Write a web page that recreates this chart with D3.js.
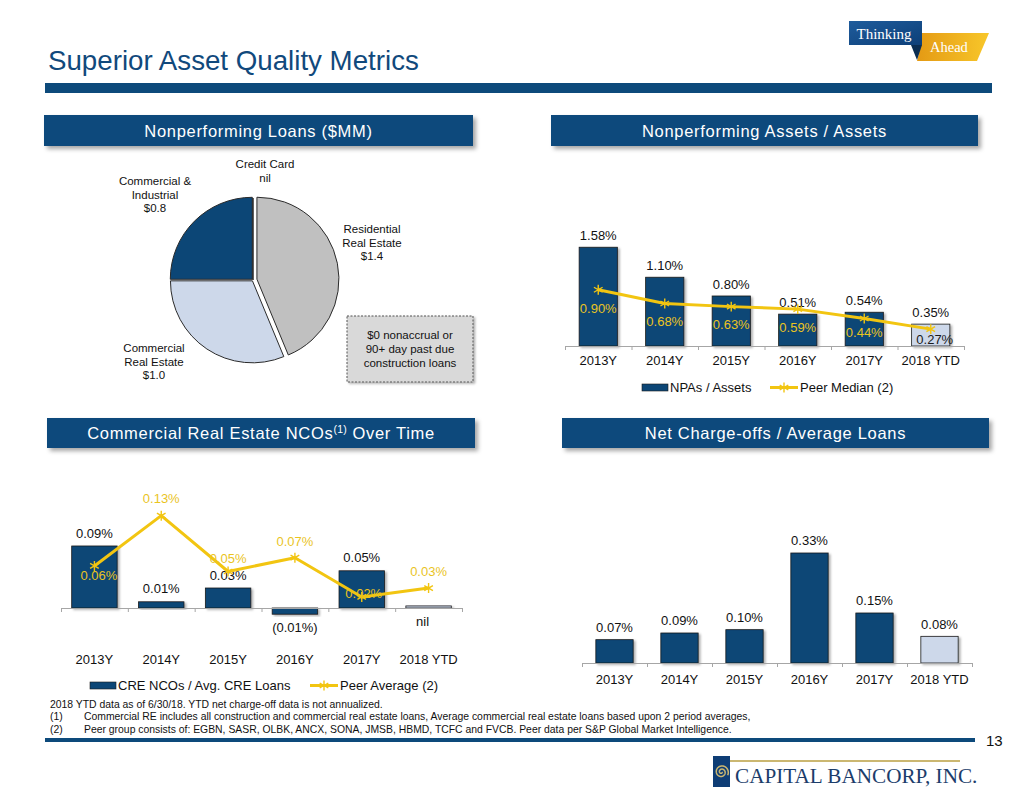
<!DOCTYPE html>
<html><head><meta charset="utf-8">
<script src="https://cdn.jsdelivr.net/npm/d3@7"></script>
<style>
body{margin:0;background:#fff}
svg{display:block}
text{font-family:'Liberation Sans',Arial,Helvetica,sans-serif}
</style>
</head><body>
<svg id="c" width="1024" height="791"></svg>
<script>
// ---------------- DATA ----------------
const years = ['2013Y','2014Y','2015Y','2016Y','2017Y','2018 YTD'];

const pieCats = ['Residential Real Estate','Commercial Real Estate','Commercial & Industrial','Credit Card'];
const pieVals = [1.4, 1.0, 0.8, 0];

const npaVals  = [1.58, 1.10, 0.80, 0.51, 0.54, 0.35];   // NPAs / Assets (%)
const npaPeer  = [0.90, 0.68, 0.63, 0.59, 0.44, 0.27];   // Peer Median (2)

const creVals  = [0.09, 0.009, 0.029, -0.009, 0.054, 0.003]; // CRE NCOs / Avg. CRE Loans (%)
const crePeer  = [0.061, 0.134, 0.053, 0.073, 0.016, 0.029]; // Peer Average (2)

const ncoVals  = [0.07, 0.09, 0.10, 0.33, 0.15, 0.08];   // Net charge-offs / Avg loans (%)

const titleText = 'Superior Asset Quality Metrics';
const panelTitles = ['Nonperforming Loans ($MM)','Nonperforming Assets / Assets','Commercial Real Estate NCOs','Net Charge-offs / Average Loans'];
const legendNPA = ['NPAs / Assets','Peer Median (2)'];
const legendCRE = ['CRE NCOs / Avg. CRE Loans','Peer Average (2)'];
const boxNote = ['$0 nonaccrual or','90+ day past due','construction loans'];
const footnotes = [
  ['', '2018 YTD data as of 6/30/18. YTD net charge-off data is not annualized.'],
  ['(1)', 'Commercial RE includes all construction and commercial real estate loans, Average commercial real estate loans based upon 2 period averages,'],
  ['(2)', 'Peer group consists of: EGBN, SASR, OLBK, ANCX, SONA, JMSB, HBMD, TCFC and FVCB. Peer data per S&P Global Market Intelligence.']
];

// ---------------- STYLE ----------------
const NAVY = '#0c4676', HEAD = '#0c4a7c', LIGHT = '#cdd8ea', GREY = '#c0c0c0';
const YEL = '#f2c511', YEL_T = '#eac41f';

const svg = d3.select('#c');
const defs = svg.append('defs');
const f1 = defs.append('filter').attr('id','sh').attr('x','-10%').attr('y','-30%').attr('width','130%').attr('height','180%');
f1.append('feDropShadow').attr('dx',3).attr('dy',3).attr('stdDeviation',2).attr('flood-color','#000').attr('flood-opacity',0.35);
const f2 = defs.append('filter').attr('id','bsh').attr('x','-20%').attr('y','-20%').attr('width','150%').attr('height','150%');
f2.append('feDropShadow').attr('dx',2).attr('dy',1.5).attr('stdDeviation',1.2).attr('flood-color','#000').attr('flood-opacity',0.3);
const gr = defs.append('linearGradient').attr('id','gold').attr('x1','0').attr('x2','1');
gr.append('stop').attr('offset','0').attr('stop-color','#e49a14');
gr.append('stop').attr('offset','1').attr('stop-color','#f8c72a');
const gb = defs.append('linearGradient').attr('id','tblue').attr('x1','0').attr('x2','1').attr('y1','0').attr('y2','1');
gb.append('stop').attr('offset','0').attr('stop-color','#1f5c9c');
gb.append('stop').attr('offset','1').attr('stop-color','#0d3f78');

// ---------------- HEADER ----------------
svg.append('text').attr('x',48).attr('y',70).attr('fill','#11497c')
  .attr('font-size',27.7).text(titleText);
svg.append('rect').attr('x',45).attr('y',83).attr('width',947).attr('height',10).attr('fill','#0d4a7b');

// Thinking Ahead logo
const lg = svg.append('g');
lg.append('polygon').attr('points','921,33 989,33 977,61 917,61 921,45').attr('fill','url(#gold)');
lg.append('polygon').attr('points','911,45 922,45 917,60').attr('fill','#0a2d52');
lg.append('rect').attr('x',849).attr('y',21).attr('width',73).attr('height',24).attr('fill','url(#tblue)');
lg.append('text').attr('x',856.5).attr('y',39).attr('fill','#fff').attr('font-size',15)
  .style('font-family',"'Liberation Serif','Times New Roman',serif").text('Thinking');
lg.append('text').attr('x',930).attr('y',52).attr('fill','#fff').attr('font-size',14.5)
  .style('font-family',"'Liberation Serif','Times New Roman',serif").text('Ahead');

// Panel headers
const panels = [
  {x:44, y:115, w:429, h:31},
  {x:551,y:115, w:427, h:31},
  {x:47, y:418, w:428, h:30},
  {x:562,y:418, w:427, h:30}
];
panels.forEach((p,i)=>{
  svg.append('rect').attr('x',p.x).attr('y',p.y).attr('width',p.w).attr('height',p.h)
    .attr('fill',HEAD).attr('filter','url(#sh)');
  const t = svg.append('text').attr('x',p.x+p.w/2).attr('y',p.y+p.h/2+6.2)
    .attr('text-anchor','middle').attr('fill','#fff').attr('font-size',16.5)
    .attr('letter-spacing',0.7).text(panelTitles[i]);
  if(i===2){
    t.append('tspan').attr('font-size',10.5).attr('dy',-6).attr('letter-spacing',0.3).text('(1)');
    t.append('tspan').attr('dy',6).text(' Over Time');
  }
});

// ---------------- PIE ----------------
const pieG = svg.append('g').attr('transform','translate(253,280)');
const pie = d3.pie().sort(null).value(d=>d)(pieVals);
const R = 82;
const arc = d3.arc().innerRadius(0).outerRadius(R);
const pieColors = [GREY, LIGHT, NAVY, '#888'];
const explode = [4,1,1,0];
pieG.selectAll('path').data(pie).join('path')
  .attr('d',arc)
  .attr('transform',(d,i)=>{
    const a=(d.startAngle+d.endAngle)/2;
    return `translate(${Math.sin(a)*explode[i]},${-Math.cos(a)*explode[i]})`;
  })
  .attr('fill',(d,i)=>pieColors[i])
  .attr('stroke','#2b2b2b').attr('stroke-width',1).attr('stroke-linejoin','round');

const pieFmt = v => v===0 ? 'nil' : '$'+v.toFixed(1);
const pieLabelPos = [ {x:372,y:233}, {x:154,y:352}, {x:155,y:185}, {x:265,y:168} ];
const pieLabelLines = [
  ['Residential','Real Estate'],
  ['Commercial','Real Estate'],
  ['Commercial &','Industrial'],
  ['Credit Card']
];
pieCats.forEach((c,i)=>{
  const lines = pieLabelLines[i].concat([pieFmt(pieVals[i])]);
  const t = svg.append('text').attr('text-anchor','middle').attr('font-size',11.5).attr('fill','#111');
  lines.forEach((l,j)=>t.append('tspan').attr('x',pieLabelPos[i].x).attr('y',pieLabelPos[i].y+j*13.6).text(l));
});

// dashed note box
svg.append('rect').attr('x',347).attr('y',316).attr('width',126).attr('height',66)
  .attr('fill','#d9d9d9').attr('stroke','#555').attr('stroke-dasharray','2,1.5').attr('stroke-width',1)
  .attr('filter','url(#bsh)');
boxNote.forEach((l,j)=>svg.append('text').attr('x',410).attr('y',339+j*13.8)
  .attr('text-anchor','middle').attr('font-size',11.5).attr('fill','#111').text(l));

// ---------------- BAR CHART helper ----------------
function barChart(cfg){
  const g = svg.append('g');
  const x = d3.scaleBand().domain(years).range([cfg.x0,cfg.x1]).padding(0);
  const y = d3.scaleLinear().domain([0,1]).range([cfg.base, cfg.base-cfg.ppu]);
  const bw = x.bandwidth()*cfg.frac;
  const cx = d => x(d)+x.bandwidth()/2;
  g.selectAll('rect.bar').data(cfg.vals).join('rect').attr('class','bar')
    .attr('x',(v,i)=>cx(years[i])-bw/2)
    .attr('y',v=>Math.min(y(v),y(0)))
    .attr('width',bw)
    .attr('height',v=>Math.abs(y(v)-y(0)))
    .attr('fill',(v,i)=>i===years.length-1?LIGHT:NAVY)
    .attr('stroke','#1b1b1b').attr('stroke-width',0.8)
    .attr('filter','url(#bsh)');
  const xl = d3.scaleLinear().domain([0,years.length]).range([cfg.x0,cfg.x1]);
  const ax = g.append('g').attr('transform',`translate(0,${cfg.base})`)
    .call(d3.axisBottom(xl).tickValues(d3.range(years.length+1)).tickSize(4).tickSizeOuter(0).tickFormat(''));
  ax.selectAll('path,line').attr('stroke','#a6a6a6');
  const al = g.append('g').attr('transform',`translate(0,${cfg.base})`)
    .call(d3.axisBottom(x).tickSize(0).tickSizeOuter(0));
  al.select('.domain').remove();
  al.selectAll('text').attr('y',cfg.labelY-cfg.base).attr('dy',0)
    .attr('font-size',13).attr('fill','#111').style('font-family',"'Liberation Sans',Arial,sans-serif");
  g.selectAll('text.val').data(cfg.vals).join('text').attr('class','val')
    .attr('x',(v,i)=>cx(years[i])+(cfg.valDx?cfg.valDx[i]:0))
    .attr('y',v=> v<0 ? y(v)+17.7 : (Math.abs(v)<0.005 ? cfg.base+17.7 : y(v)-cfg.valGap))
    .attr('text-anchor','middle').attr('font-size',13).attr('fill','#111')
    .text(cfg.fmt);
  return {g,x,y,cx};
}

const pct = v => v.toFixed(2)+'%';
const asterisk = d3.symbol().type(d3.symbolAsterisk).size(70);

function peerLine(ch, vals, dyLab, dxLab, labColors){
  const line = d3.line().x((v,i)=>ch.cx(years[i])).y(v=>ch.y(v));
  ch.g.append('path').attr('d',line(vals)).attr('fill','none').attr('stroke',YEL).attr('stroke-width',3).attr('stroke-linejoin','round');
  ch.g.selectAll('path.mk').data(vals).join('path').attr('class','mk')
    .attr('d',asterisk).attr('transform',(v,i)=>`translate(${ch.cx(years[i])},${ch.y(v)})`)
    .attr('fill','none').attr('stroke',YEL).attr('stroke-width',1.4);
  ch.g.selectAll('text.pl').data(vals).join('text').attr('class','pl')
    .attr('x',(v,i)=>ch.cx(years[i])+dxLab[i])
    .attr('y',(v,i)=>ch.y(v)+dyLab[i]+4.7)
    .attr('text-anchor','middle').attr('font-size',13)
    .attr('fill',(v,i)=>labColors[i]).text(pct);
}

function legend(x0,y0,txt,lineX){
  svg.append('rect').attr('x',x0).attr('y',y0-3.5).attr('width',26).attr('height',7).attr('fill',NAVY).attr('stroke','#1b1b1b').attr('stroke-width',0.6);
  svg.append('text').attr('x',x0+28).attr('y',y0+4.7).attr('font-size',13).attr('fill','#111').text(txt[0]);
  svg.append('line').attr('x1',lineX).attr('x2',lineX+28).attr('y1',y0).attr('y2',y0).attr('stroke',YEL).attr('stroke-width',3);
  svg.append('path').attr('d',asterisk).attr('transform',`translate(${lineX+14},${y0})`).attr('fill','none').attr('stroke',YEL).attr('stroke-width',1.4);
  svg.append('text').attr('x',lineX+30).attr('y',y0+4.7).attr('font-size',13).attr('fill','#111').text(txt[1]);
}

// ---------------- NPA / Assets ----------------
const npa = barChart({x0:565,x1:964,base:346,ppu:62.5,vals:npaVals,frac:0.575,labelY:364.5,valGap:7.3,fmt:pct});
peerLine(npa, npaPeer, [19,18,18,18.5,14,10], [0,0,0,0,0,4], [YEL_T,YEL_T,YEL_T,YEL_T,YEL_T,'#1a1a1a']);
legend(642,387.5,legendNPA,770);

// ---------------- CRE NCOs ----------------
const creFmt = v => Math.abs(v)<0.005 ? 'nil' : (v<0 ? '('+Math.abs(v).toFixed(2)+'%)' : pct(v));
const cre = barChart({x0:61,x1:462,base:608,ppu:689,vals:creVals,frac:0.68,labelY:663.7,valGap:8.3,fmt:creFmt,valDx:[0,0,0,0,0,-6]});
peerLine(cre, crePeer, [9,-17,-13,-16,-4,-17], [4.5,0,0,0,2,0], Array(6).fill(YEL_T));
legend(90,685.5,legendCRE,310);

// ---------------- NCO / Avg Loans ----------------
barChart({x0:582,x1:972,base:663,ppu:333.3,vals:ncoVals,frac:0.574,labelY:683.7,valGap:7.6,fmt:pct});

// ---------------- FOOTER ----------------
footnotes.forEach((f,i)=>{
  const yy = 707.5 + i*12.6;
  if(f[0]) svg.append('text').attr('x',50).attr('y',yy).attr('font-size',10.4).attr('fill','#111').text(f[0]);
  svg.append('text').attr('x',f[0]?84:50).attr('y',yy).attr('font-size',10.4).attr('fill','#111').text(f[1]);
});
svg.append('rect').attr('x',45).attr('y',738).attr('width',930).attr('height',4).attr('fill','#0d4a7b');
svg.append('text').attr('x',986).attr('y',745.5).attr('font-size',15).attr('fill','#111').text('13');

// Capital Bancorp logo
const cb = svg.append('g');
cb.append('rect').attr('x',713).attr('y',756).attr('width',17).attr('height',31).attr('fill','#0e3d75');
cb.append('rect').attr('x',730).attr('y',760).attr('width',230).attr('height',2).attr('fill','#cbb771');
const sp = d3.range(0, 4.2*Math.PI, 0.15).map(t=>[721.5 + Math.cos(t)*(0.5+t*0.5), 772 + Math.sin(t)*(0.5+t*0.5)]);
cb.append('path').attr('d',d3.line()(sp)).attr('fill','none').attr('stroke','#cbb771').attr('stroke-width',1.5);
cb.append('text').attr('x',735).attr('y',783).attr('font-size',21.2).attr('fill','#1c3d6b')
  .style('font-family',"'Liberation Serif','Times New Roman',serif").text('CAPITAL BANCORP, INC.');
</script>
</body></html>
